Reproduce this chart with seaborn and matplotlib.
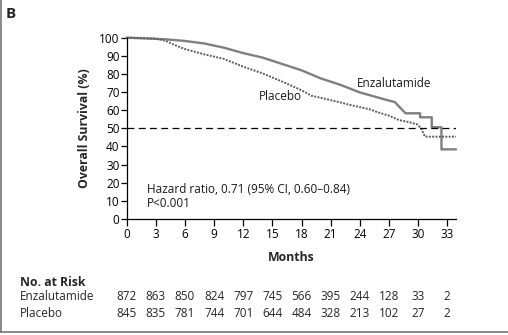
import matplotlib
matplotlib.use("Agg")
import matplotlib.pyplot as plt
import matplotlib.transforms as mtransforms
import seaborn as sns
import pandas as pd

# Kaplan-Meier overall survival curves (months, % surviving)
enza_months = [0, 2, 4, 6, 8, 10, 12, 14, 16, 18, 20, 22, 24, 26, 27, 27.6,
               28.7, 30.2, 30.2, 31.4, 31.4, 32.4, 32.4, 33.9]
enza_surv = [100, 99.6, 99.1, 98.2, 96.8, 94.5, 91.5, 89.0, 85.5, 82.0, 77.5,
             74.0, 69.8, 66.8, 65.3, 64.5, 58.3, 58.3, 56.1, 56.1, 50.6, 50.6,
             38.4, 38.4]

placebo_months = [0, 3, 4, 5, 6, 8, 10, 12, 14, 16, 18, 19, 20, 22, 23, 25,
                  26, 27, 28, 29, 29.9, 30.3, 30.7, 33.9]
placebo_surv = [100, 99.5, 98.3, 95.8, 93.7, 90.8, 88.3, 84.0, 80.3, 75.8,
                71.0, 68.0, 66.8, 64.3, 62.9, 60.5, 58.6, 57.0, 54.6, 53.5,
                52.2, 50.0, 45.4, 45.4]

# Number of patients at risk at each 3-month tick
risk_months = [0, 3, 6, 9, 12, 15, 18, 21, 24, 27, 30, 33]
risk_enza = [872, 863, 850, 824, 797, 745, 566, 395, 244, 128, 33, 2]
risk_placebo = [845, 835, 781, 744, 701, 644, 484, 328, 213, 102, 27, 2]

y_ticks = list(range(0, 101, 10))

sns.set_theme(style="white")
plt.rcParams["font.family"] = ["Open Sans", "DejaVu Sans"]

FS = 8.5
fig = plt.figure(figsize=(5.08, 3.35), dpi=100)
ax = fig.add_axes([0.2494, 0.3463, 0.6483, 0.5412])

enza_df = pd.DataFrame({"Months": enza_months, "Survival": enza_surv})
plac_df = pd.DataFrame({"Months": placebo_months, "Survival": placebo_surv})

sns.lineplot(data=enza_df, x="Months", y="Survival", ax=ax, color="#7f7f7f",
             linewidth=1.7, sort=False, estimator=None, clip_on=False)
sns.lineplot(data=plac_df, x="Months", y="Survival", ax=ax, color="#5e5e5e",
             linewidth=1.4, linestyle=(0, (1.0, 0.7)), sort=False,
             estimator=None, clip_on=False)

# median survival reference line
ax.axhline(50, color="black", linewidth=0.9, linestyle=(0, (5.5, 3.5)))

ax.set_xlim(0, 33.9)
ax.set_ylim(0, 100)
ax.set_xticks(risk_months)
ax.set_yticks(y_ticks)
ax.set_xticklabels([str(m) for m in risk_months], fontsize=FS)
ax.set_yticklabels([str(v) for v in y_ticks], fontsize=FS)
ax.tick_params(axis="both", direction="out", length=4, width=0.9,
               color="black", pad=1.2, labelcolor="black")
ax.tick_params(axis="x", length=5, pad=1.5)
ax.tick_params(left=True, bottom=True)
for side in ("top", "right"):
    ax.spines[side].set_visible(False)
for side in ("left", "bottom"):
    ax.spines[side].set_color("black")
    ax.spines[side].set_linewidth(0.9)

ax.set_xlabel("Months", fontsize=FS + 0.3, fontweight="bold", labelpad=7)
ax.set_ylabel("Overall Survival (%)", fontsize=FS + 0.3, fontweight="bold",
              labelpad=6)
ax.grid(False)

ax.text(2.05, 16.5, "Hazard ratio, 0.71 (95% CI, 0.60\u20130.84)", fontsize=FS,
        color="#1a1a1a", va="center")
ax.text(2.05, 8.8, "P<0.001", fontsize=FS, color="#1a1a1a", va="center")
ax.text(23.7, 74.5, "Enzalutamide", fontsize=FS, color="#1a1a1a", va="center")
ax.text(13.6, 67.5, "Placebo", fontsize=FS, color="#1a1a1a", va="center")

# panel letter
fig.text(6 / 508, 1 - 14 / 335, "B", fontsize=11, fontweight="bold",
         va="center", ha="left")

# risk table
trans = mtransforms.blended_transform_factory(ax.transData, fig.transFigure)
fig.text(20 / 508, 1 - 283 / 335, "No. at Risk", fontsize=FS + 0.3,
         fontweight="bold", va="center")
fig.text(20 / 508, 1 - 296.5 / 335, "Enzalutamide", fontsize=FS, va="center")
fig.text(20 / 508, 1 - 313.5 / 335, "Placebo", fontsize=FS, va="center")
for m, a, b in zip(risk_months, risk_enza, risk_placebo):
    ax.text(m, 1 - 296.5 / 335, str(a), transform=trans, fontsize=FS,
            ha="center", va="center")
    ax.text(m, 1 - 313.5 / 335, str(b), transform=trans, fontsize=FS,
            ha="center", va="center")

# outer panel frame (left and bottom edges)
fig.add_artist(plt.Line2D([1 / 508, 1 / 508], [3 / 335, 1], color="#777777",
                          linewidth=1.2, transform=fig.transFigure))
fig.add_artist(plt.Line2D([0, 1], [3 / 335, 3 / 335], color="#777777",
                          linewidth=1.2, transform=fig.transFigure))

fig.savefig("out.png", dpi=100)
